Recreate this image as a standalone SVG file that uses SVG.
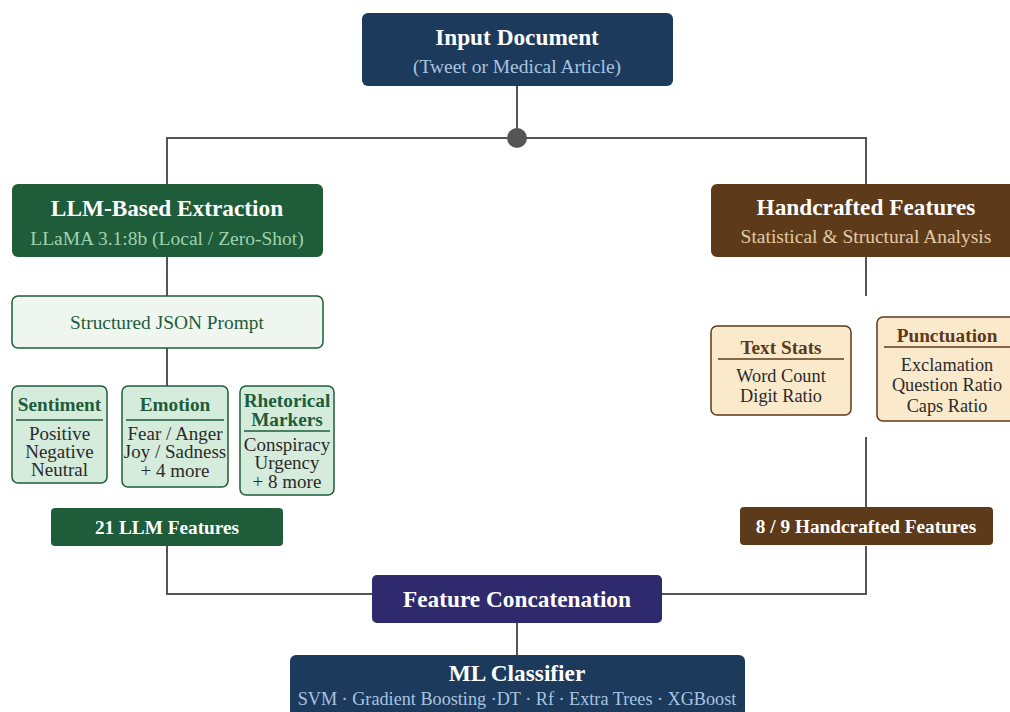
<svg xmlns="http://www.w3.org/2000/svg" width="1010" height="712" viewBox="0 0 1010 712">
<style>
text{font-family:"Liberation Serif","Times New Roman",serif;text-anchor:middle}
.t{font-weight:bold;fill:#fff;font-size:23.3px}
.sub{font-size:19.5px}
.conn{stroke:#555;stroke-width:2;fill:none}
.gh{font-weight:bold;fill:#1e5c3a;font-size:19.3px}
.gi{fill:#2a2a2a;font-size:19px}
.bh{font-weight:bold;fill:#5c3a1a;font-size:19.3px}
.bi{fill:#2a2a2a;font-size:18.3px}
.gbox{fill:#d5ecdc;stroke:#1e5c3a;stroke-width:1.5}
.bbox{fill:#fbe9cc;stroke:#5c3a1a;stroke-width:1.5}
</style>
<rect width="1010" height="712" fill="#fff"/>
<g id="connectors">
<path class="conn" d="M517 86V138M167 184V138H866V184"/>
<circle cx="517" cy="138" r="10" fill="#555"/>
<path class="conn" d="M167 257V296M167 348V386M167 546V594H866V546M866 257V296M866 437V508M517 623V655"/>
</g>
<g id="input">
<rect x="362" y="13" width="311" height="73" rx="6" fill="#1b3a5c"/>
<text class="t" x="517" y="45">Input Document</text>
<text class="sub" x="517" y="73" fill="#a9c4e0">(Tweet or Medical Article)</text>
</g>
<g id="llm">
<rect x="12" y="184" width="311" height="73" rx="6" fill="#1e5c3a"/>
<text class="t" x="167" y="216">LLM-Based Extraction</text>
<text class="sub" x="167" y="245" fill="#9fd4b0">LLaMA 3.1:8b (Local / Zero-Shot)</text>
</g>
<g id="prompt">
<rect x="12" y="296" width="311" height="52" rx="6" fill="#eef6ef" stroke="#1e5c3a" stroke-width="1.5"/>
<text x="167" y="329" font-size="19.4" fill="#1e5c3a">Structured JSON Prompt</text>
</g>
<g id="sentiment">
<rect class="gbox" x="12" y="386" width="95" height="97" rx="6"/>
<text class="gh" x="59.5" y="411">Sentiment</text>
<line x1="16" y1="420" x2="103" y2="420" stroke="#1e5c3a" stroke-width="1.5"/>
<text class="gi" x="59.5" y="440">Positive</text>
<text class="gi" x="59.5" y="458">Negative</text>
<text class="gi" x="59.5" y="476">Neutral</text>
</g>
<g id="emotion">
<rect class="gbox" x="122" y="386" width="106" height="101" rx="6"/>
<text class="gh" x="175" y="411">Emotion</text>
<line x1="126" y1="420" x2="224" y2="420" stroke="#1e5c3a" stroke-width="1.5"/>
<text class="gi" x="175" y="440">Fear / Anger</text>
<text class="gi" x="175" y="458">Joy / Sadness</text>
<text class="gi" x="175" y="477">+ 4 more</text>
</g>
<g id="rhetorical">
<rect class="gbox" x="240" y="386" width="94" height="109" rx="6"/>
<text class="gh" x="287" y="407">Rhetorical</text>
<text class="gh" x="287" y="426">Markers</text>
<line x1="244" y1="431" x2="330" y2="431" stroke="#1e5c3a" stroke-width="1.5"/>
<text class="gi" x="287" y="451">Conspiracy</text>
<text class="gi" x="287" y="469">Urgency</text>
<text class="gi" x="287" y="488">+ 8 more</text>
</g>
<g id="llmfeat">
<rect x="51" y="508" width="232" height="38" rx="4" fill="#1e5c3a"/>
<text x="167" y="534" font-size="19.3" font-weight="bold" fill="#fff">21 LLM Features</text>
</g>
<g id="handcrafted">
<rect x="711" y="184" width="310" height="73" rx="6" fill="#5c3a1a"/>
<text class="t" x="866" y="215">Handcrafted Features</text>
<text class="sub" x="866" y="243" fill="#e2c9a6">Statistical &amp; Structural Analysis</text>
</g>
<g id="textstats">
<rect class="bbox" x="711" y="326" width="140" height="89" rx="6"/>
<text class="bh" x="781" y="354">Text Stats</text>
<line x1="718" y1="359" x2="844" y2="359" stroke="#5c3a1a" stroke-width="1.5"/>
<text class="bi" x="781" y="382">Word Count</text>
<text class="bi" x="781" y="402">Digit Ratio</text>
</g>
<g id="punctuation">
<rect class="bbox" x="877" y="317" width="142" height="104" rx="6"/>
<text class="bh" x="947" y="342">Punctuation</text>
<line x1="884" y1="347" x2="1012" y2="347" stroke="#5c3a1a" stroke-width="1.5"/>
<text class="bi" x="947" y="371">Exclamation</text>
<text class="bi" x="947" y="391">Question Ratio</text>
<text class="bi" x="947" y="412">Caps Ratio</text>
</g>
<g id="hcfeat">
<rect x="740" y="507" width="253" height="38" rx="4" fill="#5c3a1a"/>
<text x="866" y="533" font-size="19.3" font-weight="bold" fill="#fff">8 / 9 Handcrafted Features</text>
</g>
<g id="concat">
<rect x="372" y="575" width="290" height="48" rx="5" fill="#2f2a6e"/>
<text class="t" x="517" y="607">Feature Concatenation</text>
</g>
<g id="classifier">
<rect x="290" y="655" width="455" height="70" rx="6" fill="#1b3a5c"/>
<text class="t" x="517" y="681">ML Classifier</text>
<text x="517" y="705" font-size="18.2" fill="#a9c4e0">SVM · Gradient Boosting ·DT · Rf · Extra Trees · XGBoost</text>
</g>
</svg>
